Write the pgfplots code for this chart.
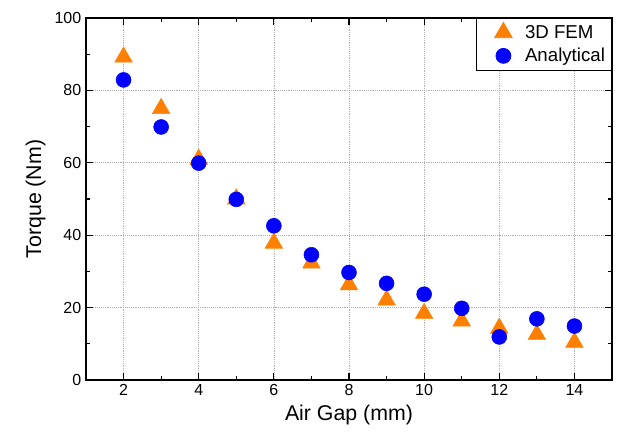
\documentclass[border=0pt]{standalone}
\usepackage{fontspec}
\setmainfont{Liberation Sans}
\usepackage{pgfplots}
\pgfplotsset{compat=1.18}
\definecolor{femorange}{RGB}{255,128,0}
\definecolor{anablue}{RGB}{0,0,255}
\begin{document}
\begin{tikzpicture}
\begin{axis}[
  scale only axis,
  width=394.5pt, height=271.5pt,
  xmin=1, xmax=15, ymin=0, ymax=100,
  xtick={2,4,...,14}, ytick={0,20,...,100},
  minor x tick num=1, minor y tick num=1,
  tick align=inside,
  major tick length=5pt, minor tick length=3pt,
  tick style={black, line width=0.8pt},
  axis line style={black, line width=1pt},
  grid=major,
  major grid style={gray!60, densely dotted, line width=0.5pt},
  /pgf/number format/assume math mode=true,
  ticklabel style={font=\fontsize{12}{14}\selectfont},
  xlabel={Air Gap (mm)}, ylabel={Torque (Nm)},
  label style={font=\fontsize{16}{18}\selectfont},
  legend style={at={(1,1)}, anchor=north east, draw=black, line width=0.6pt,
    font=\fontsize{14}{16}\selectfont, inner xsep=3pt, inner ysep=3pt,
    row sep=2pt, cells={anchor=west}},
  legend image code/.code={\path[draw=none,fill=none] (0cm,0cm) -- (1.1cm,0cm); \draw[#1] plot coordinates {(0.6cm,0cm)};},
]
\addplot[only marks, mark=triangle*, mark size=7.6pt, color=femorange] coordinates {
 (2,89.2) (3,75) (4,61) (5,50) (6,37.8) (7,32.3) (8,26.3) (9,22.1) (10,18.4) (11,16.3) (12,14.3) (13,12.6) (14,10.4)
};
\addlegendentry{3D FEM}
\addplot[only marks, mark=*, mark size=5.6pt, color=anablue] coordinates {
 (2,82.9) (3,69.9) (4,59.9) (5,49.9) (6,42.6) (7,34.6) (8,29.7) (9,26.7) (10,23.7) (11,19.8) (12,11.9) (13,16.9) (14,14.9)
};
\addlegendentry{Analytical}
\end{axis}
\path (current axis.south west) ++(-64.5pt,-39.75pt) coordinate (bbsw);
\path (current axis.north east) ++(6.75pt,13.5pt) coordinate (bbne);
\useasboundingbox (bbsw) rectangle (bbne);
\end{tikzpicture}
\end{document}
